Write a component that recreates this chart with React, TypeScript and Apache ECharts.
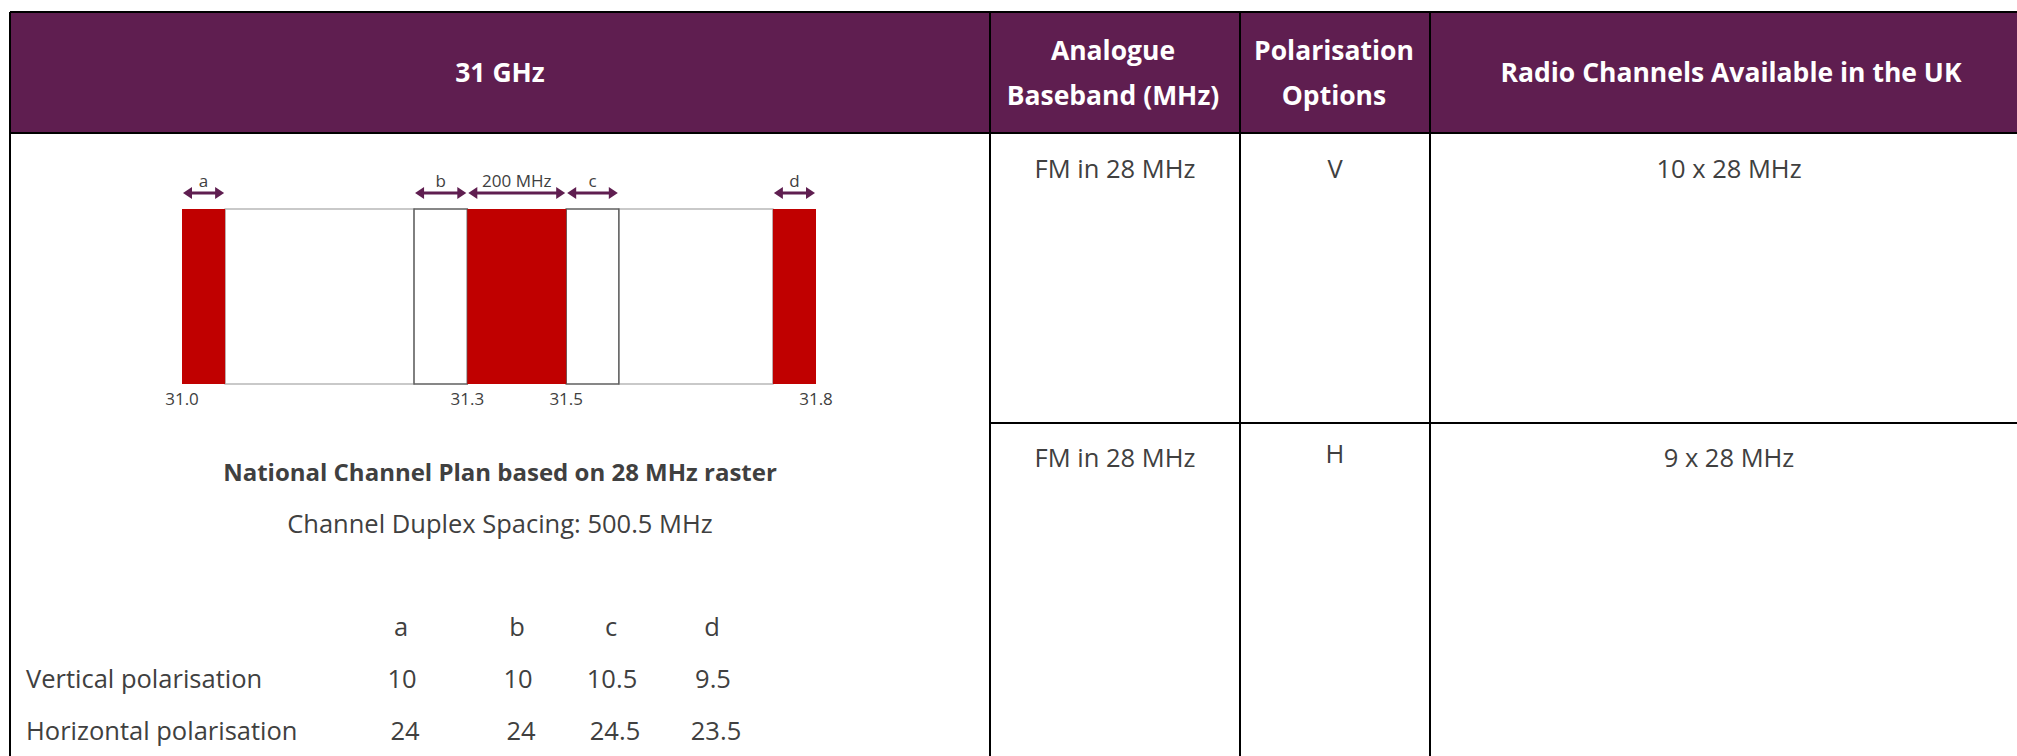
import React, { useEffect, useRef } from 'react';
import * as echarts from 'echarts';

// ---- Band diagram data (schematic positions along the 31 GHz band, 0..100) ----
const segmentKinds = ['occupied', 'guard', 'box', 'occupied', 'box', 'guard', 'occupied'];
const segmentStart = [0, 6.8, 36.6, 45.0, 60.6, 68.9, 93.2];
const segmentEnd = [6.8, 36.6, 45.0, 60.6, 68.9, 93.2, 100];

const tickPositions = [0, 45.0, 60.6, 100];
const tickLabels = ['31.0', '31.3', '31.5', '31.8'];

const arrowLabels = ['a', 'b', '200 MHz', 'c', 'd'];
const arrowStart = [0, 36.6, 45.0, 60.6, 93.2];
const arrowEnd = [6.8, 45.0, 60.6, 68.9, 100];

// ---- Table texts ----
const bandTitle = '31 GHz';
const headerBaseband = ['Analogue', 'Baseband (MHz)'];
const headerPolarisation = ['Polarisation', 'Options'];
const headerChannels = 'Radio Channels Available in the UK';
const planTitle = 'National Channel Plan based on 28 MHz raster';
const planSubtitle = 'Channel Duplex Spacing: 500.5 MHz';

const spacingColumns = ['a', 'b', 'c', 'd'];
const polarisationNames = ['Vertical polarisation', 'Horizontal polarisation'];
const verticalSpacing = ['10', '10', '10.5', '9.5'];
const horizontalSpacing = ['24', '24', '24.5', '23.5'];

const basebands = ['FM in 28 MHz', 'FM in 28 MHz'];
const polarisationOptions = ['V', 'H'];
const channelsAvailable = ['10 x 28 MHz', '9 x 28 MHz'];

const PURPLE = '#5F1E50';
const RED = '#C00000';
const TEXT = '#404040';
const FONT = '"Open Sans", "Noto Sans", sans-serif';

const kindStyle: Record<string, any> = {
  occupied: { fill: RED, stroke: null, lineWidth: 0, z2: 3 },
  box: { fill: '#ffffff', stroke: '#606060', lineWidth: 1.5, z2: 2 },
  guard: { fill: '#ffffff', stroke: '#b8b8b8', lineWidth: 1.5, z2: 1 },
};

function txt(text: string, x: number, y: number, opts: any = {}) {
  return {
    type: 'text',
    z: 10,
    style: {
      text,
      x,
      y,
      fill: opts.fill || TEXT,
      fontSize: opts.fontSize || 25.5,
      fontWeight: opts.fontWeight || 'normal',
      fontFamily: FONT,
      align: opts.align || 'center',
      verticalAlign: 'middle',
    },
  };
}

function ln(x1: number, y1: number, x2: number, y2: number) {
  return {
    type: 'line',
    z: 11,
    shape: { x1, y1, x2, y2 },
    style: { stroke: '#000000', lineWidth: 2 },
  };
}

export default function App() {
  const ref = useRef<HTMLDivElement>(null);

  useEffect(() => {
    if (!ref.current) return;
    const chart = echarts.init(ref.current, null, { renderer: 'svg' });

    const T = 12; // table top
    const HB = 133; // header bottom
    const L = 10; // table left
    const C1 = 990;
    const C2 = 1240;
    const C3 = 1430;
    const R1 = 423;
    const W = 2040;
    const B = 770;

    const white = { fill: '#ffffff', fontWeight: 'bold', fontSize: 26.5 };
    const spacingX = [401, 517, 611, 712];

    const graphics: any[] = [
      { type: 'rect', z: 5, shape: { x: L, y: T, width: W - L, height: HB - T }, style: { fill: PURPLE } },
      txt(bandTitle, 500, 72, white),
      txt(headerBaseband[0], 1113, 50, white),
      txt(headerBaseband[1], 1113, 95, white),
      txt(headerPolarisation[0], 1334, 50, white),
      txt(headerPolarisation[1], 1334, 95, white),
      txt(headerChannels, 1731, 72, white),
      ln(L, T, W, T),
      ln(L, HB, W, HB),
      ln(L, T, L, B),
      ln(C1, T, C1, B),
      ln(C2, T, C2, B),
      ln(C3, T, C3, B),
      ln(C1, R1, W, R1),
      txt(planTitle, 500, 471, { fontWeight: 'bold', fontSize: 24 }),
      txt(planSubtitle, 500, 523),
    ];
    spacingColumns.forEach((c, i) => graphics.push(txt(c, spacingX[i], 626)));
    graphics.push(txt(polarisationNames[0], 26, 678, { align: 'left' }));
    graphics.push(txt(polarisationNames[1], 26, 730, { align: 'left' }));
    verticalSpacing.forEach((v, i) => graphics.push(txt(v, spacingX[i] + 1, 678)));
    horizontalSpacing.forEach((v, i) => graphics.push(txt(v, spacingX[i] + 4, 730)));
    const rowY = [168, 457];
    basebands.forEach((b, i) => graphics.push(txt(b, 1115, rowY[i])));
    polarisationOptions.forEach((p, i) => graphics.push(txt(p, 1335, rowY[i] - (i === 1 ? 4 : 0))));
    channelsAvailable.forEach((c, i) => graphics.push(txt(c, 1729, rowY[i])));

    const segData = segmentStart.map((s, i) => [s, segmentEnd[i]]);
    const arrowData = arrowStart.map((s, i) => [s, arrowEnd[i]]);

    chart.setOption({
      animation: false,
      backgroundColor: '#ffffff',
      grid: { left: 182, top: 209, width: 634, height: 175 },
      xAxis: {
        type: 'value',
        min: 0,
        max: 100,
        axisLine: { show: false },
        axisTick: { show: false },
        splitLine: { show: false },
        axisLabel: {
          customValues: tickPositions,
          formatter: (v: number) => {
            let best = 0;
            tickPositions.forEach((p, i) => {
              if (Math.abs(p - v) < Math.abs(tickPositions[best] - v)) best = i;
            });
            return tickLabels[best];
          },
          color: TEXT,
          fontSize: 17,
          fontFamily: FONT,
          margin: 6,
          hideOverlap: false,
        },
      },
      yAxis: { type: 'value', min: 0, max: 1, show: false },
      graphic: graphics,
      series: [
        {
          type: 'custom',
          clip: false,
          data: segData,
          encode: { x: [0, 1] },
          renderItem: (params: any, api: any) => {
            const k = segmentKinds[params.dataIndex];
            const st = kindStyle[k];
            const p0 = api.coord([api.value(0), 1]);
            const p1 = api.coord([api.value(1), 0]);
            return {
              type: 'rect',
              z2: st.z2,
              shape: { x: p0[0], y: p0[1], width: p1[0] - p0[0], height: p1[1] - p0[1] },
              style: { fill: st.fill, stroke: st.stroke, lineWidth: st.lineWidth },
            };
          },
        },
        {
          type: 'custom',
          clip: false,
          data: arrowData,
          encode: { x: [0, 1] },
          renderItem: (params: any, api: any) => {
            const a = api.coord([api.value(0), 1]);
            const b = api.coord([api.value(1), 1]);
            const y = a[1] - 16;
            const x0 = a[0] + 1;
            const x1 = b[0] - 1;
            const hl = 9;
            const hw = 6;
            return {
              type: 'group',
              children: [
                {
                  type: 'line',
                  shape: { x1: x0 + 4, y1: y, x2: x1 - 4, y2: y },
                  style: { stroke: PURPLE, lineWidth: 3 },
                },
                {
                  type: 'polygon',
                  shape: { points: [[x0, y], [x0 + hl, y - hw], [x0 + hl, y + hw]] },
                  style: { fill: PURPLE },
                },
                {
                  type: 'polygon',
                  shape: { points: [[x1, y], [x1 - hl, y - hw], [x1 - hl, y + hw]] },
                  style: { fill: PURPLE },
                },
                {
                  type: 'text',
                  style: {
                    text: arrowLabels[params.dataIndex],
                    x: (x0 + x1) / 2,
                    y: y - 13,
                    align: 'center',
                    verticalAlign: 'middle',
                    fill: TEXT,
                    fontSize: 17,
                    fontFamily: FONT,
                  },
                },
              ],
            };
          },
        },
      ],
    });

    return () => chart.dispose();
  }, []);

  return (
    <div
      ref={ref}
      style={{ position: 'fixed', left: 0, top: 0, width: 2017, height: 756, background: '#fff' }}
    />
  );
}
